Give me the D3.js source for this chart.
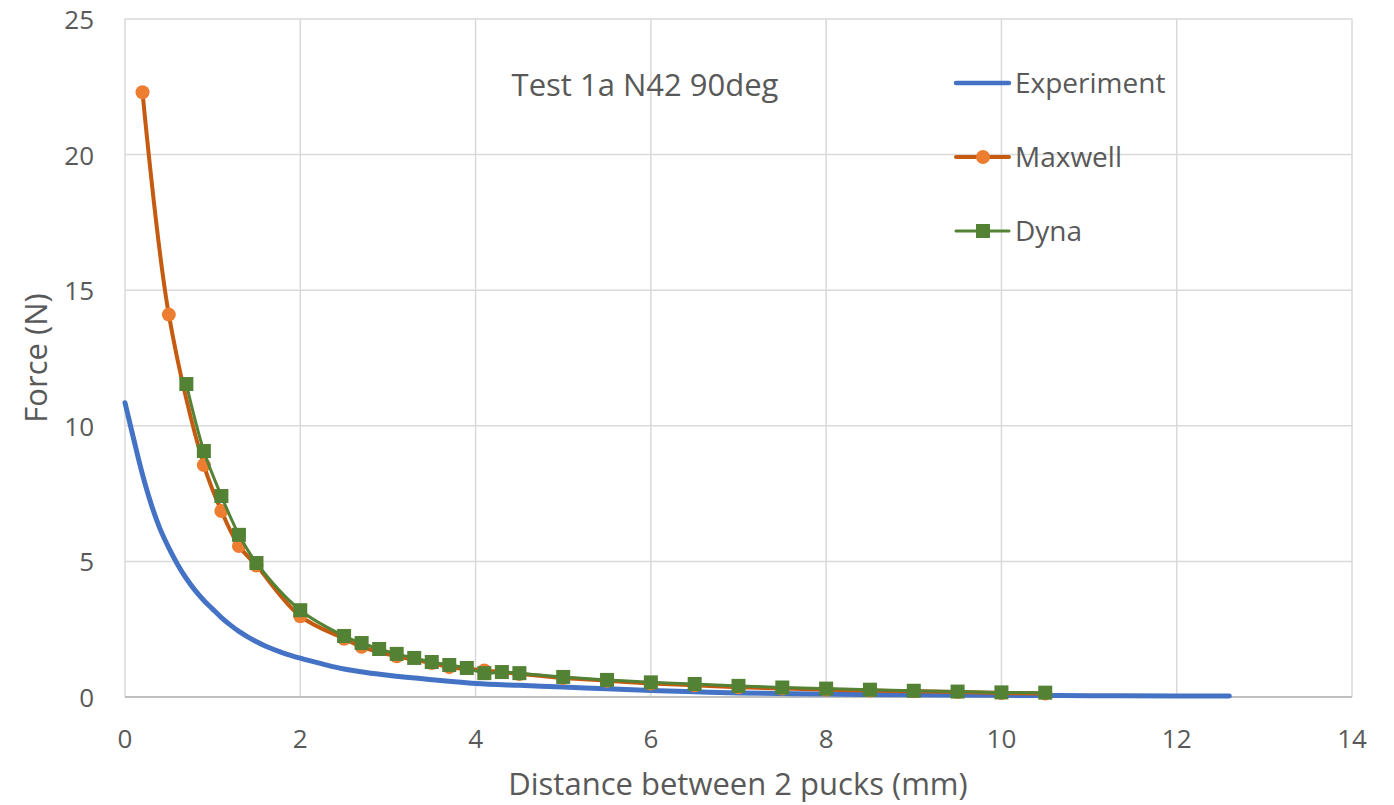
<!DOCTYPE html>
<meta charset="utf-8">
<script src="https://d3js.org/d3.v7.min.js"></script>
<style>
    body { margin: 0; background: #fff; }
    text { font-family: "Open Sans", "Noto Sans", sans-serif; fill: #595959; }
</style>
<body>
</body>
<script>
    // Experiment curve
    var expX = [0, 0.1, 0.2, 0.3, 0.4, 0.5, 0.6, 0.7, 0.8, 0.9, 1.0, 1.1, 1.2, 1.3, 1.4, 1.5, 1.6, 1.8, 2.0, 2.25, 2.5, 2.75, 3.0, 3.5, 4.0, 4.5, 5.0, 5.5, 6.0, 6.5, 7.0, 8.0, 9.0, 10.0, 11.0, 12.0, 12.6];
    var expY = [10.85, 9.5, 8.2, 7.1, 6.2, 5.5, 4.89, 4.37, 3.93, 3.56, 3.24, 2.93, 2.66, 2.42, 2.22, 2.04, 1.88, 1.63, 1.43, 1.22, 1.03, 0.9, 0.8, 0.64, 0.5, 0.43, 0.37, 0.3, 0.24, 0.19, 0.15, 0.11, 0.08, 0.06, 0.05, 0.04, 0.04];

    // Maxwell simulation
    var maxX = [0.2, 0.5, 0.9, 1.1, 1.3, 1.5, 2.0, 2.5, 2.7, 3.1, 3.5, 3.7, 4.1, 4.5, 5.0, 5.5, 6.0, 6.5, 7.0, 7.5, 8.0, 8.5, 9.0, 9.5, 10.0, 10.5];
    var maxY = [22.3, 14.1, 8.55, 6.86, 5.57, 4.85, 2.98, 2.15, 1.85, 1.5, 1.25, 1.1, 0.98, 0.85, 0.7, 0.6, 0.5, 0.43, 0.36, 0.31, 0.27, 0.24, 0.21, 0.18, 0.15, 0.13];

    // Dyna simulation
    var dynX = [0.7, 0.9, 1.1, 1.3, 1.5, 2.0, 2.5, 2.7, 2.9, 3.1, 3.3, 3.5, 3.7, 3.9, 4.1, 4.3, 4.5, 5.0, 5.5, 6.0, 6.5, 7.0, 7.5, 8.0, 8.5, 9.0, 9.5, 10.0, 10.5];
    var dynY = [11.54, 9.07, 7.41, 5.98, 4.94, 3.2, 2.25, 1.99, 1.77, 1.59, 1.44, 1.29, 1.18, 1.07, 0.88, 0.92, 0.88, 0.74, 0.63, 0.54, 0.48, 0.41, 0.35, 0.31, 0.27, 0.23, 0.2, 0.17, 0.16];

    var xTicks = [0, 2, 4, 6, 8, 10, 12, 14];
    var yTicks = [0, 5, 10, 15, 20, 25];

    var W = 1394, H = 805;
    var margin = {top: 19, right: 42, bottom: 108, left: 125},
        width = W - margin.left - margin.right,
        height = H - margin.top - margin.bottom;

    var svg = d3.select("body").append("svg")
        .attr("width", W)
        .attr("height", H);

    var g = svg.append("g")
        .attr("transform", "translate(" + margin.left + "," + margin.top + ")");

    var x = d3.scaleLinear().domain([0, 14]).range([0, width]);
    var y = d3.scaleLinear().domain([0, 25]).range([height, 0]);

    // gridlines
    g.selectAll(".vgrid").data(xTicks).enter().append("line")
        .attr("x1", d => x(d)).attr("x2", d => x(d))
        .attr("y1", 0).attr("y2", height)
        .attr("stroke", "#d9d9d9").attr("stroke-width", 1.5);
    g.selectAll(".hgrid").data(yTicks).enter().append("line")
        .attr("x1", 0).attr("x2", width)
        .attr("y1", d => y(d)).attr("y2", d => y(d))
        .attr("stroke", d => d === 0 ? "#bfbfbf" : "#d9d9d9")
        .attr("stroke-width", d => d === 0 ? 2 : 1.5);

    // tick labels
    g.selectAll(".xl").data(xTicks).enter().append("text")
        .attr("x", d => x(d)).attr("y", height + 51)
        .attr("text-anchor", "middle")
        .style("font-size", "26px")
        .text(d => d);
    g.selectAll(".yl").data(yTicks).enter().append("text")
        .attr("x", -31).attr("y", d => y(d) + 10)
        .attr("text-anchor", "end")
        .style("font-size", "26px")
        .text(d => d);

    // axis titles
    svg.append("text")
        .attr("x", 738).attr("y", 795)
        .attr("text-anchor", "middle")
        .style("font-size", "31px")
        .text("Distance between 2 pucks (mm)");
    svg.append("text")
        .attr("transform", "translate(47,358) rotate(-90)")
        .attr("text-anchor", "middle")
        .style("font-size", "31px")
        .text("Force (N)");

    // chart title inside plot
    svg.append("text")
        .attr("x", 645).attr("y", 96)
        .attr("text-anchor", "middle")
        .style("font-size", "31px")
        .text("Test 1a N42 90deg");

    var line = d3.line().x(d => x(d[0])).y(d => y(d[1])).curve(d3.curveCatmullRom);

    var expData = d3.zip(expX, expY);
    var maxData = d3.zip(maxX, maxY);
    var dynData = d3.zip(dynX, dynY);

    g.append("path").datum(expData)
        .attr("d", line).attr("fill", "none")
        .attr("stroke", "#4472c4").attr("stroke-width", 5)
        .attr("stroke-linecap", "round");

    g.append("path").datum(maxData)
        .attr("d", line).attr("fill", "none")
        .attr("stroke", "#c55a11").attr("stroke-width", 4)
        .attr("stroke-linecap", "round");
    g.selectAll(".mx").data(maxData).enter().append("circle")
        .attr("cx", d => x(d[0])).attr("cy", d => y(d[1]))
        .attr("r", 7).attr("fill", "#ed7d31");

    g.append("path").datum(dynData)
        .attr("d", line).attr("fill", "none")
        .attr("stroke", "#548235").attr("stroke-width", 3);
    g.selectAll(".dy").data(dynData).enter().append("rect")
        .attr("x", d => x(d[0]) - 7).attr("y", d => y(d[1]) - 7)
        .attr("width", 14).attr("height", 14)
        .attr("fill", "#548235");

    // legend
    var legend = [
        {name: "Experiment", color: "#4472c4", w: 4.5, mark: null},
        {name: "Maxwell", color: "#c55a11", w: 4, mark: "circle"},
        {name: "Dyna", color: "#548235", w: 3, mark: "square"}
    ];
    var lg = svg.selectAll(".lg").data(legend).enter().append("g")
        .attr("transform", (d, i) => "translate(956," + (83 + i * 74) + ")");
    lg.append("line")
        .attr("x1", 0).attr("x2", 53).attr("y1", 0).attr("y2", 0)
        .attr("stroke", d => d.color).attr("stroke-width", d => d.w)
        .attr("stroke-linecap", "round");
    lg.filter(d => d.mark === "circle").append("circle")
        .attr("cx", 27).attr("cy", 0).attr("r", 7).attr("fill", "#ed7d31");
    lg.filter(d => d.mark === "square").append("rect")
        .attr("x", 20).attr("y", -7).attr("width", 14).attr("height", 14).attr("fill", "#548235");
    lg.append("text")
        .attr("x", 59).attr("y", 10)
        .style("font-size", "28px")
        .text(d => d.name);
</script>
